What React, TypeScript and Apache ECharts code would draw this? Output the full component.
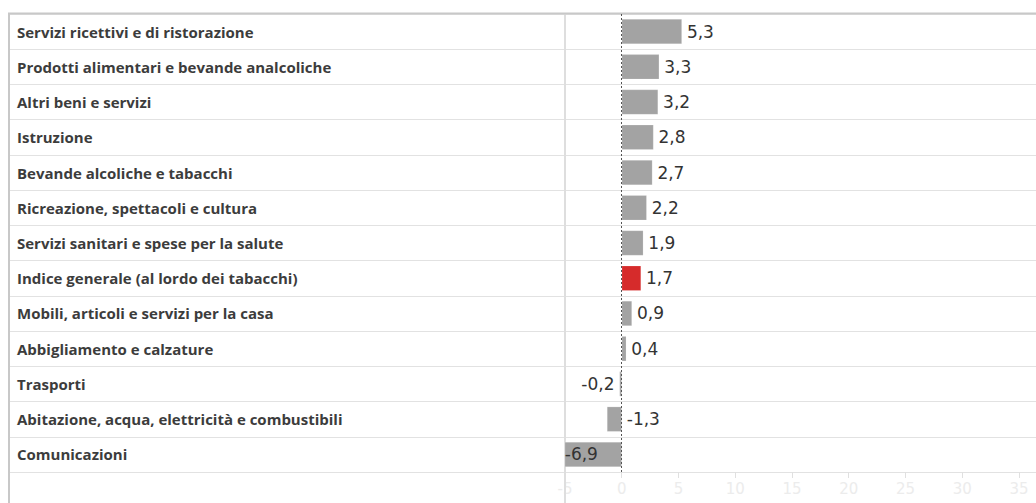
import React, { useEffect, useRef } from "react";
import * as echarts from "echarts";

const categories = [
  "Servizi ricettivi e di ristorazione",
  "Prodotti alimentari e bevande analcoliche",
  "Altri beni e servizi",
  "Istruzione",
  "Bevande alcoliche e tabacchi",
  "Ricreazione, spettacoli e cultura",
  "Servizi sanitari e spese per la salute",
  "Indice generale (al lordo dei tabacchi)",
  "Mobili, articoli e servizi per la casa",
  "Abbigliamento e calzature",
  "Trasporti",
  "Abitazione, acqua, elettricità e combustibili",
  "Comunicazioni",
];
const values = [5.3, 3.3, 3.2, 2.8, 2.7, 2.2, 1.9, 1.7, 0.9, 0.4, -0.2, -1.3, -6.9];
const highlight = "Indice generale (al lordo dei tabacchi)";
const labelPositions: Record<string, string> = {
  Trasporti: "left",
  "Abitazione, acqua, elettricità e combustibili": "right",
  Comunicazioni: "insideLeft",
};

const W = 1036;
const H = 503;
const TOP = 14;
const BOTTOM = 31;
const COL = 565;

export default function App() {
  const ref = useRef<HTMLDivElement>(null);
  useEffect(() => {
    if (!ref.current) return;
    const chart = echarts.init(ref.current, undefined, { renderer: "svg" });
    const cats = [...categories].reverse();
    const vals = [...values].reverse();
    const data = vals.map((v, i) => {
      const name = cats[i];
      const pos = labelPositions[name] || "right";
      return {
        value: v,
        itemStyle: { color: name === highlight ? "#d62b2b" : "#a3a3a3" },
        label: {
          position: pos,
          distance: pos === "insideLeft" ? 0 : 5,
        },
      };
    });
    chart.setOption({
      animation: false,
      grid: [
        { left: COL, right: 0, top: TOP, bottom: BOTTOM, containLabel: false },
        { left: 9, right: 0, top: TOP, bottom: BOTTOM, containLabel: false },
      ],
      xAxis: [
        {
          gridIndex: 0,
          type: "value",
          min: -5,
          max: 36.5,
          interval: 5,
          axisLine: { show: false },
          axisTick: {
            show: true,
            length: 6,
            lineStyle: { color: "#e0e0e0" },
          },
          axisLabel: {
            color: "#ececec",
            fontFamily: "DejaVu Sans",
            fontSize: 15,
            margin: 9,
            showMaxLabel: false,
          },
          splitLine: { show: false },
        },
        {
          gridIndex: 1,
          type: "value",
          show: false,
        },
      ],
      yAxis: [
        {
          gridIndex: 0,
          type: "category",
          data: cats,
          axisLine: { show: false },
          axisTick: { show: false },
          axisLabel: {
            align: "left",
            margin: COL - 17,
            color: "#3c3c3c",
            fontFamily: "Open Sans",
            fontWeight: "bold",
            fontSize: 15,
            padding: [2, 0, 0, 0],
          },
          splitLine: { show: false },
        },
        {
          gridIndex: 1,
          type: "category",
          data: cats,
          axisLine: { show: false },
          axisTick: { show: false },
          axisLabel: { show: false },
          splitLine: { show: true, lineStyle: { color: "#e2e2e2", width: 1 } },
        },
      ],
      graphic: [
        {
          type: "line",
          shape: { x1: COL, y1: TOP, x2: COL, y2: H },
          style: { stroke: "#dedede", lineWidth: 2 },
          z: 1,
        },
        {
          type: "line",
          shape: { x1: 9, y1: TOP, x2: 9, y2: H },
          style: { stroke: "#c8c8c8", lineWidth: 2 },
          z: 1,
        },
        {
          type: "line",
          shape: { x1: 8, y1: 13.5, x2: W, y2: 13.5 },
          style: { stroke: "#c8c8c8", lineWidth: 2 },
          z: 1,
        },
      ],
      series: [
        {
          type: "bar",
          xAxisIndex: 0,
          yAxisIndex: 0,
          data,
          barWidth: "71%",
          itemStyle: { borderColor: "rgba(255,255,255,0.35)", borderWidth: 0.5 },
          label: {
            show: true,
            color: "#333333",
            fontFamily: "DejaVu Sans",
            fontSize: 17,
            formatter: (p: any) => String(p.value).replace(".", ","),
          },
          markLine: {
            silent: true,
            symbol: "none",
            label: { show: false },
            lineStyle: { color: "#555555", type: [2, 2], width: 1 },
            data: [{ xAxis: 0 }],
            z: 10,
          },
          z: 5,
        },
      ],
    });
    return () => chart.dispose();
  }, []);
  return (
    <div
      ref={ref}
      style={{ position: "fixed", left: 0, top: 0, width: W, height: H, background: "#ffffff" }}
    />
  );
}
